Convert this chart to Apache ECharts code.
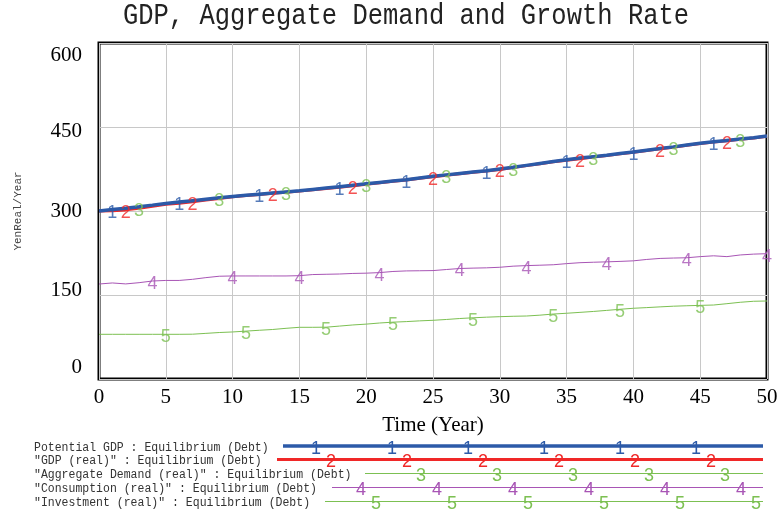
<!DOCTYPE html>
<html><head><meta charset="utf-8">
<script src="https://cdn.jsdelivr.net/npm/echarts@6/dist/echarts.min.js"></script>
<style>html,body{margin:0;padding:0;background:#fff}#c{width:781px;height:516px}</style>
</head><body><div id="c"></div>
<script>
const titleText = 'GDP, Aggregate Demand and Growth Rate';
const xAxisName = 'Time (Year)';
const yAxisName = 'YenReal/Year';
const yTickLabels = [0, 150, 300, 450, 600];
const seriesNames = [
  'Potential GDP : Equilibrium (Debt)',
  '"GDP (real)" : Equilibrium (Debt)',
  '"Aggregate Demand (real)" : Equilibrium (Debt)',
  '"Consumption (real)" : Equilibrium (Debt)',
  '"Investment (real)" : Equilibrium (Debt)'
];
const seriesColors = ['#2c5aa8', '#f02828', '#7cc052', '#a855b5', '#7cc052'];
const seriesWidths = [3.5, 3, 1, 1, 1];

const potentialGDP = [300,302.5,305,307.7,310.5,313.5,316,318.5,321,323.5,326,328,330,332,334,336,338.5,341,343.5,346,348.5,351,353.5,356,359,362,364.5,367,369.5,372,375,378,381.5,385,388.5,391.5,394.5,397,399.5,402.5,405.5,408.5,411.5,414.5,418,421,423.5,426,428.5,431,434];
const gdpReal = [300,300.5,302,304.8,308.3,312,314,316.5,319.5,322.5,325.3,327.5,329.5,331.5,333.5,335.5,338,340.3,342.5,345,347.8,350.5,353,355.5,358.5,361.3,364,366.5,369,371.5,374.3,377.5,381,384.5,387.8,390.5,393.3,396.3,399,402,405,408,411,414,417.5,420.5,423,425.5,428,430.5,433.5];
const aggDemand = [300,300.3,301.8,304.6,308,311.8,313.8,316.3,319.3,322.3,325,327.3,329.3,331.3,333.3,335.3,337.8,340,342.3,344.8,347.5,350.3,352.8,355.3,358.3,361,363.8,366.3,368.8,371.3,374,377.3,380.8,384.3,387.5,390.3,393,396,398.8,401.8,404.8,407.8,410.8,413.8,417.3,420.3,422.8,425.3,427.8,430.3,433.3];
const consumption = [169.6,171.5,169.8,172,175,176,176,178,181,183.5,184,184,184,184,184,184.5,186.5,187,187.5,188.5,189,190,192,193,193.3,193.6,195.5,197.3,198,198.5,199.5,201.5,202.5,203.2,204,206,207.7,208.5,209.2,210,211,213.5,215.3,216,216.5,218.5,220,218.5,221.5,223,223.8];
const investment = [79.8,79.8,79.8,79.8,79.8,79.8,79.8,80,81.5,83,84,85.5,87,88.4,90.5,92.3,92.3,92.5,94.5,96.5,98,100,101.5,102.5,103.8,104.8,106.3,108,109.3,110.4,111.3,112,112.5,114,116,117.4,119,120.6,122.5,124.5,126.3,127.5,128.8,130,130.8,131.5,132.1,134.5,137,138.8,139.3];

const markerYears = [
  [1, 6, 12, 18, 23, 29, 35, 40, 46],
  [2, 7, 13, 19, 25, 30, 36, 42, 47],
  [3, 9, 14, 20, 26, 31, 37, 43, 48],
  [4, 10, 15, 21, 27, 32, 38, 44, 50],
  [5, 11, 17, 22, 28, 34, 39, 45]
];
const allSeries = [potentialGDP, gdpReal, aggDemand, consumption, investment];

const chart = echarts.init(document.getElementById('c'), null, {renderer: 'canvas'});

const lineSeries = [];
for (let k = 4; k >= 0; k--) {
  lineSeries.push({
    type: 'line', name: seriesNames[k], showSymbol: false, symbol: 'none', silent: true,
    data: allSeries[k].map((v, i) => [i, v]),
    lineStyle: {color: seriesColors[k], width: seriesWidths[k]},
    z: 2 + (4 - k)
  });
}
const markerSeries = allSeries.map((arr, k) => ({
  type: 'scatter', silent: true, symbol: 'circle', symbolSize: 0.1,
  itemStyle: {color: 'rgba(255,255,255,0)'}, z: 10,
  data: markerYears[k].map(t => [t, arr[t]]),
  label: {show: true, position: 'inside', formatter: String(k + 1), offset: [0, 3],
    color: seriesColors[k], fontSize: 18, fontFamily: 'Liberation Sans'}
}));

// legend drawn as graphic
const legendRowsY = [446, 459.5, 473.5, 487.5, 501.5];
const legendLineStart = [283, 277, 365, 332, 325];
const legendMarkStart = [316, 331, 421, 361, 376];
const graphics = [{
  type: 'text', x: 406, y: 16, scaleY: 1.18,
  style: {text: titleText, align: 'center', verticalAlign: 'middle',
    font: '25.5px "Liberation Mono"', fill: '#222'}
}];
seriesNames.forEach((name, k) => {
  const y = legendRowsY[k];
  graphics.push({type: 'text', x: 34, y: y + 1, scaleY: 1.15, style: {text: name, align: 'left', verticalAlign: 'middle',
    font: '11.5px "Liberation Mono"', fill: '#333'}});
  graphics.push({type: 'line', shape: {x1: legendLineStart[k], y1: y, x2: 763, y2: y},
    style: {stroke: seriesColors[k], lineWidth: seriesWidths[k]}});
  for (let x = legendMarkStart[k]; x < 765; x += 76) {
    graphics.push({type: 'text', x: x, y: y + 3, z: 10, style: {text: String(k + 1), align: 'center', verticalAlign: 'middle',
      font: '18px "Liberation Sans"', fill: seriesColors[k]}});
  }
});

const yRich = {
  top: {padding: [24, 0, 0, 0], fontSize: 21, fontFamily: 'Liberation Serif', color: '#000'},
  up: {padding: [8, 0, 0, 0], fontSize: 21, fontFamily: 'Liberation Serif', color: '#000'},
  mid: {fontSize: 21, fontFamily: 'Liberation Serif', color: '#000'},
  dn: {padding: [0, 0, 10, 0], fontSize: 21, fontFamily: 'Liberation Serif', color: '#000'},
  bot: {padding: [0, 0, 24, 0], fontSize: 21, fontFamily: 'Liberation Serif', color: '#000'}
};
const yStyleKey = {600: 'top', 450: 'up', 300: 'mid', 150: 'dn', 0: 'bot'};

chart.setOption({
  animation: false,
  backgroundColor: '#fff',
  grid: {left: 99, right: 14, top: 43, bottom: 137, show: true, borderColor: '#000', borderWidth: 3, backgroundColor: 'transparent'},
  xAxis: {
    type: 'value', min: 0, max: 50, interval: 5,
    name: xAxisName, nameLocation: 'middle', nameGap: 36,
    nameTextStyle: {fontSize: 21, fontFamily: 'Liberation Serif', color: '#000'},
    axisLine: {show: false}, axisTick: {show: false},
    axisLabel: {fontSize: 21, fontFamily: 'Liberation Serif', color: '#000', margin: 8},
    splitLine: {show: true, lineStyle: {color: '#c8c8c8', width: 1}}
  },
  yAxis: {
    type: 'value', min: 0, max: 600, interval: 150,
    name: yAxisName, nameLocation: 'middle', nameGap: 75, nameRotate: 90,
    nameTextStyle: {fontSize: 11, fontFamily: 'Liberation Mono', color: '#444'},
    axisLine: {show: false}, axisTick: {show: false},
    axisLabel: {margin: 17, formatter: v => '{' + yStyleKey[v] + '|' + v + '}', rich: yRich},
    splitLine: {show: true, lineStyle: {color: '#c8c8c8', width: 1}}
  },
  series: lineSeries.concat(markerSeries),
  graphic: graphics
});
</script></body></html>
